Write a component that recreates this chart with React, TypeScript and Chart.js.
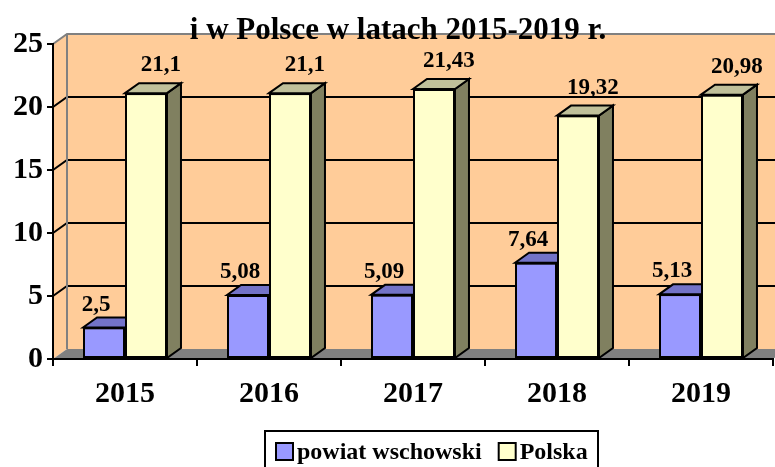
import { useEffect, useRef } from 'react';
import { Chart, registerables } from 'chart.js';

Chart.register(...registerables);

const years = ['2015', '2016', '2017', '2018', '2019'];
const powiat = [2.5, 5.08, 5.09, 7.64, 5.13];
const polska = [21.1, 21.1, 21.43, 19.32, 20.98];
const seriesNames = ['powiat wschowski', 'Polska'];
const titleText = 'i w Polsce w latach 2015-2019 r.';
const yMin = 0;
const yMax = 25;
const yStep = 5;

const FONT = '"Liberation Serif", "Times New Roman", serif';
const DX = 14;
const DY = 10;
const WALL = '#FFCC99';
const FLOOR = '#808080';
const EDGE = '#808080';
const FACES = [
  { front: '#9999FF', top: '#7373C8', side: '#5555AA' },
  { front: '#FFFFCC', top: '#C0C09A', side: '#808060' },
];

function poly(ctx: CanvasRenderingContext2D, pts: number[][], fill?: string, stroke?: string, lw = 2) {
  ctx.beginPath();
  ctx.moveTo(pts[0][0], pts[0][1]);
  for (let i = 1; i < pts.length; i++) ctx.lineTo(pts[i][0], pts[i][1]);
  ctx.closePath();
  if (fill) {
    ctx.fillStyle = fill;
    ctx.fill();
  }
  if (stroke) {
    ctx.strokeStyle = stroke;
    ctx.lineWidth = lw;
    ctx.lineJoin = 'miter';
    ctx.stroke();
  }
}

function fmt(v: number) {
  return String(v).replace('.', ',');
}

const threeD = {
  id: 'threeD',
  beforeDraw(chart: any) {
    const { ctx } = chart;
    const { left, right, top, bottom } = chart.chartArea;
    const ys = chart.scales.y;
    ctx.save();
    ctx.fillStyle = '#ffffff';
    ctx.fillRect(0, 0, chart.width, chart.height);
    ctx.fillStyle = WALL;
    ctx.fillRect(left + DX, top - DY, right - left, bottom - top);
    poly(ctx, [[left, top], [left + DX, top - DY], [left + DX, bottom - DY], [left, bottom]], WALL);
    poly(ctx, [[left, bottom], [left + DX, bottom - DY], [right + DX, bottom - DY], [right, bottom]], FLOOR);
    ctx.strokeStyle = '#000';
    ctx.lineWidth = 2;
    ys.ticks.forEach((t: any) => {
      if (t.value <= yMin || t.value >= yMax) return;
      const py = ys.getPixelForValue(t.value);
      ctx.beginPath();
      ctx.moveTo(left, py);
      ctx.lineTo(left + DX, py - DY);
      ctx.lineTo(right + DX, py - DY);
      ctx.stroke();
    });
    ctx.strokeStyle = EDGE;
    ctx.lineWidth = 2;
    ctx.beginPath();
    ctx.moveTo(left, top);
    ctx.lineTo(left + DX, top - DY);
    ctx.lineTo(right + DX, top - DY);
    ctx.moveTo(left + DX, top - DY);
    ctx.lineTo(left + DX, bottom - DY);
    ctx.stroke();
    ctx.restore();
  },
  afterDatasetsDraw(chart: any) {
    const { ctx } = chart;
    ctx.save();
    chart.data.datasets.forEach((_ds: any, i: number) => {
      const meta = chart.getDatasetMeta(i);
      const f = FACES[i];
      meta.data.forEach((bar: any) => {
        bar.draw(ctx);
        const { x, y, base, width } = bar.getProps(['x', 'y', 'base', 'width'], true);
        const l = x - width / 2;
        const r = x + width / 2;
        poly(ctx, [[r, y], [r + DX, y - DY], [r + DX, base - DY], [r, base]], f.side, '#000');
        poly(ctx, [[l, y], [l + DX, y - DY], [r + DX, y - DY], [r, y]], f.top, '#000');
      });
    });
    ctx.restore();
  },
  afterDraw(chart: any) {
    const { ctx } = chart;
    ctx.save();
    ctx.fillStyle = '#000';
    ctx.font = `bold 23px ${FONT}`;
    ctx.textAlign = 'center';
    ctx.textBaseline = 'alphabetic';
    chart.data.datasets.forEach((ds: any, i: number) => {
      const meta = chart.getDatasetMeta(i);
      meta.data.forEach((bar: any, j: number) => {
        const { x, y } = bar.getProps(['x', 'y'], true);
        const ox = i === 0 ? -8 : 15;
        const oy = i === 0 ? 17 : 22;
        ctx.fillText(fmt(ds.data[j]), x + ox, y - oy);
      });
    });
    ctx.font = `bold 31px ${FONT}`;
    ctx.fillText(titleText, 398, 39);
    const lx = 265, ly = 431, lw = 333, lh = 44;
    ctx.fillStyle = '#fff';
    ctx.fillRect(lx, ly, lw, lh);
    ctx.strokeStyle = '#000';
    ctx.lineWidth = 2;
    ctx.strokeRect(lx, ly, lw, lh);
    ctx.font = `bold 24px ${FONT}`;
    ctx.textAlign = 'left';
    let cx = lx + 10;
    chart.data.datasets.forEach((ds: any, i: number) => {
      ctx.fillStyle = FACES[i].front;
      ctx.fillRect(cx + 1, 443, 17, 17);
      ctx.strokeStyle = '#000';
      ctx.lineWidth = 2;
      ctx.strokeRect(cx + 1, 443, 17, 17);
      ctx.fillStyle = '#000';
      ctx.fillText(ds.label, cx + 22, 459);
      cx += 22 + ctx.measureText(ds.label).width + 16;
    });
    ctx.restore();
  },
};

export default function App() {
  const ref = useRef<HTMLCanvasElement>(null);
  useEffect(() => {
    if (!ref.current) return;
    const chart = new Chart(ref.current, {
      type: 'bar',
      data: {
        labels: years,
        datasets: [
          {
            label: seriesNames[0],
            data: powiat,
            backgroundColor: FACES[0].front,
            borderColor: '#000',
            borderWidth: 2,
            borderSkipped: false,
            categoryPercentage: 0.583,
            barPercentage: 1,
          },
          {
            label: seriesNames[1],
            data: polska,
            backgroundColor: FACES[1].front,
            borderColor: '#000',
            borderWidth: 2,
            borderSkipped: false,
            categoryPercentage: 0.583,
            barPercentage: 1,
          },
        ],
      },
      options: {
        animation: false,
        responsive: false,
        devicePixelRatio: 1,
        layout: { padding: { top: 44, right: 2, left: 0, bottom: 0 } },
        plugins: {
          legend: { display: false },
          title: { display: false },
          tooltip: { enabled: false },
        },
        scales: {
          x: {
            type: 'category',
            offset: true,
            grid: {
              display: true,
              drawOnChartArea: false,
              offset: true,
              color: '#000',
              lineWidth: 2,
              tickLength: 7,
            },
            border: { display: true, color: '#000', width: 2 },
            ticks: { color: '#000', font: { family: FONT, size: 30, weight: 'bold' }, padding: 10 },
            afterFit: (s: any) => {
              s.height = 108;
            },
          },
          y: {
            min: yMin,
            max: yMax,
            grid: {
              display: true,
              drawOnChartArea: false,
              color: '#000',
              lineWidth: 2,
              tickLength: 6,
            },
            border: { display: true, color: '#000', width: 2 },
            ticks: {
              stepSize: yStep,
              color: '#000',
              font: { family: FONT, size: 30, weight: 'bold' },
              padding: 4,
            },
            afterFit: (s: any) => {
              s.width = 53;
            },
          },
        },
      },
      plugins: [threeD],
    } as any);
    return () => chart.destroy();
  }, []);
  return (
    <div style={{ position: 'absolute', left: 0, top: 0, width: 775, height: 467, background: '#fff' }}>
      <canvas ref={ref} width={775} height={467} style={{ display: 'block' }} />
    </div>
  );
}
